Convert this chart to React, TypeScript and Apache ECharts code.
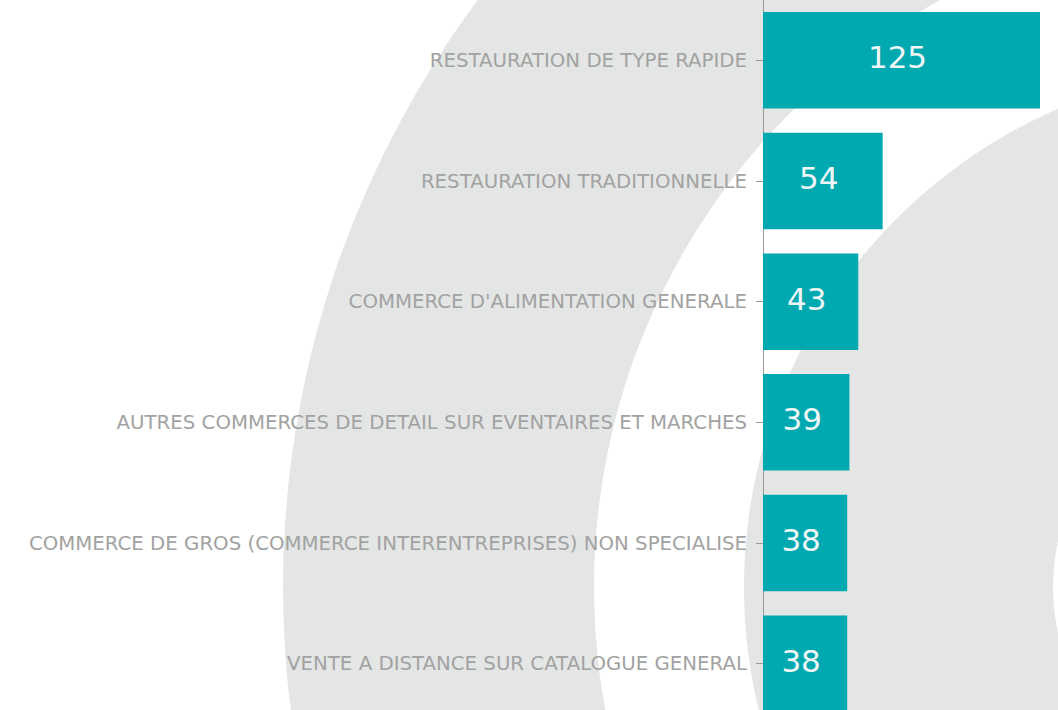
import React, { useEffect, useRef } from "react";
import * as echarts from "echarts";

const categories: string[] = [
  "RESTAURATION DE TYPE RAPIDE",
  "RESTAURATION TRADITIONNELLE",
  "COMMERCE D'ALIMENTATION GENERALE",
  "AUTRES COMMERCES DE DETAIL SUR EVENTAIRES ET MARCHES",
  "COMMERCE DE GROS (COMMERCE INTERENTREPRISES) NON SPECIALISE",
  "VENTE A DISTANCE SUR CATALOGUE GENERAL",
];
const values: number[] = [125, 54, 43, 39, 38, 38];

export default function App() {
  const ref = useRef<HTMLDivElement>(null);
  useEffect(() => {
    if (!ref.current) return;
    const chart = echarts.init(ref.current, undefined, { renderer: "svg" });
    const ringColor = "#e4e6e5";
    chart.setOption({
      animation: false,
      backgroundColor: "#ffffff",
      graphic: [
        {
          type: "ring",
          z: -10,
          silent: true,
          shape: { cx: 1265, cy: 587, r: 982, r0: 671 },
          style: { fill: ringColor },
        },
        {
          type: "ring",
          z: -10,
          silent: true,
          shape: { cx: 1265, cy: 587, r: 521, r0: 212 },
          style: { fill: ringColor },
        },
      ],
      grid: {
        left: 763,
        width: 277,
        top: 0,
        height: 724,
        containLabel: false,
        outerBoundsMode: "none",
      },
      xAxis: {
        type: "value",
        min: 0,
        max: 125,
        show: false,
      },
      yAxis: {
        type: "category",
        inverse: true,
        data: categories,
        axisLine: { show: true, lineStyle: { color: "#9a9a9a", width: 1 } },
        axisTick: { show: true, alignWithLabel: true, length: 7, lineStyle: { color: "#9a9a9a" } },
        axisLabel: {
          margin: 16,
          color: "#a2a2a2",
          fontFamily: "DejaVu Sans",
          fontSize: 19.75,
          padding: [0, 0, 3, 0],
        },
        splitLine: { show: false },
      },
      series: [
        {
          type: "bar",
          data: values,
          barCategoryGap: "20%",
          itemStyle: { color: "#00a8b0" },
          label: {
            show: true,
            position: "inside",
            offset: [-4, -3],
            color: "#eef6f6",
            fontFamily: "DejaVu Sans",
            fontSize: 31,
          },
        },
      ],
    });
    return () => chart.dispose();
  }, []);
  return (
    <div
      ref={ref}
      style={{ position: "absolute", left: 0, top: 0, width: 1058, height: 710 }}
    />
  );
}
